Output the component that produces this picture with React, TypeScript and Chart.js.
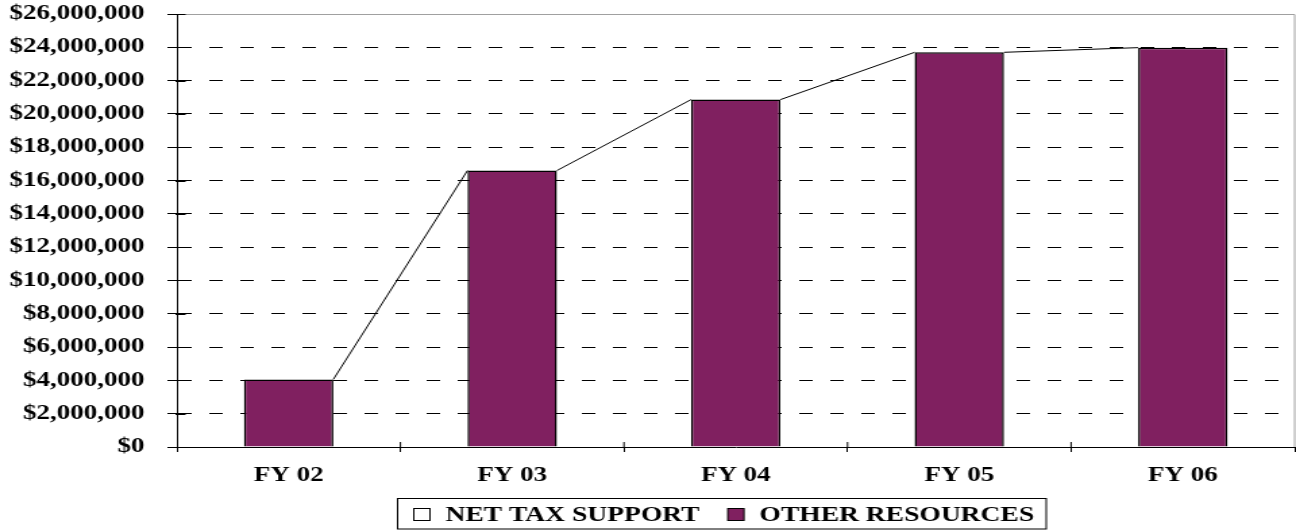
import React, { useEffect, useRef } from "react";
import { Chart, registerables } from "chart.js";

Chart.register(...registerables);

const categories = ["FY 02", "FY 03", "FY 04", "FY 05", "FY 06"];
const netTaxSupport = [0, 0, 0, 0, 0];
const otherResources = [4060000, 16600000, 20860000, 23700000, 23980000];
const seriesNames = ["NET TAX SUPPORT", "OTHER RESOURCES"];
const yMin = 0;
const yMax = 26000000;
const yStep = 2000000;

const PURPLE = "#802060";
const FONT_FAMILY = "'Liberation Serif', 'Times New Roman', serif";

// logical canvas is stretched horizontally (960 -> 1296)
const LOGICAL_W = 960;
const H = 531;

const seriesLinesPlugin = {
  id: "seriesLines",
  afterDatasetsDraw(chart: any) {
    const meta = chart.getDatasetMeta(1);
    const bars = meta.data;
    const ctx = chart.ctx;
    ctx.save();
    ctx.strokeStyle = "#000";
    ctx.lineWidth = 1;
    for (let i = 0; i < bars.length - 1; i++) {
      const a = bars[i].getProps(["x", "y", "width"], true);
      const b = bars[i + 1].getProps(["x", "y", "width"], true);
      ctx.beginPath();
      ctx.moveTo(a.x + a.width / 2, a.y);
      ctx.lineTo(b.x - b.width / 2, b.y);
      ctx.stroke();
    }
    ctx.restore();
  },
};

const frameTicksPlugin = {
  id: "frameTicks",
  afterDraw(chart: any) {
    const { ctx, chartArea, scales } = chart;
    ctx.save();
    // top and right border of plot area
    ctx.strokeStyle = "#a0a0a0";
    ctx.lineWidth = 1;
    const top = Math.round(chartArea.top) + 0.5;
    ctx.beginPath();
    ctx.moveTo(chartArea.left, top);
    ctx.lineTo(chartArea.right, top);
    ctx.lineTo(chartArea.right, chartArea.bottom);
    ctx.stroke();
    // inner halves of the cross tick marks
    ctx.strokeStyle = "#000";
    const ys = scales.y;
    ys.ticks.forEach((t: any) => {
      const y = Math.round(ys.getPixelForValue(t.value)) + 0.5;
      ctx.beginPath();
      ctx.moveTo(chartArea.left - 1, y);
      ctx.lineTo(chartArea.left + 6.5, y);
      ctx.stroke();
    });
    const xs = scales.x;
    const n = categories.length;
    for (let i = 1; i < n; i++) {
      const x = (xs.getPixelForValue(i - 1) + xs.getPixelForValue(i)) / 2;
      ctx.beginPath();
      ctx.moveTo(x, chartArea.bottom);
      ctx.lineTo(x, chartArea.bottom - 5);
      ctx.stroke();
    }
    ctx.restore();
  },
};

const boxLegendPlugin = {
  id: "boxLegend",
  afterDraw(chart: any) {
    const ctx = chart.ctx;
    ctx.save();
    ctx.font = `bold 20.4px ${FONT_FAMILY}`;
    ctx.textBaseline = "middle";
    ctx.textAlign = "left";
    const left = 294.5;
    const top = 498.5;
    const bottom = 529;
    const cy = 514.5;
    const colors = ["#ffffff", PURPLE];
    let x = left + 12;
    chart.data.datasets.forEach((ds: any, i: number) => {
      ctx.fillStyle = colors[i];
      ctx.fillRect(x, cy - 6, 12, 12);
      ctx.strokeStyle = "#000";
      ctx.lineWidth = 1;
      ctx.strokeRect(x, cy - 6, 12, 12);
      x += 12 + 11.5;
      ctx.fillStyle = "#000";
      ctx.fillText(ds.label, x, cy + 1);
      x += ctx.measureText(ds.label).width;
      if (i < chart.data.datasets.length - 1) x += 21;
    });
    const right = Math.max(x + 9, 772.5);
    ctx.strokeStyle = "#000";
    ctx.lineWidth = 1;
    ctx.strokeRect(left, top, right - left, bottom - top);
    ctx.restore();
  },
};

export default function App() {
  const ref = useRef<HTMLCanvasElement | null>(null);

  useEffect(() => {
    if (!ref.current) return;
    Chart.defaults.font.family = FONT_FAMILY;
    Chart.defaults.font.size = 20;
    Chart.defaults.font.weight = "bold";
    Chart.defaults.color = "#000";

    const chart = new Chart(ref.current, {
      type: "bar",
      data: {
        labels: categories,
        datasets: [
          {
            label: seriesNames[0],
            data: netTaxSupport,
            backgroundColor: "#ffffff",
            borderColor: "#000",
            borderWidth: 0,
          },
          {
            label: seriesNames[1],
            data: otherResources,
            backgroundColor: PURPLE,
            borderColor: "#000",
            borderWidth: 1.5,
          },
        ],
      },
      options: {
        responsive: false,
        animation: false,
        devicePixelRatio: 1,
        layout: { padding: { top: 14, right: 1, left: 0, bottom: 0 } },
        datasets: {
          bar: { barPercentage: 0.4, categoryPercentage: 1.0 },
        },
        plugins: {
          legend: { display: false },
          tooltip: { enabled: false },
          title: { display: false },
        },
        scales: {
          x: {
            stacked: true,
            offset: true,
            grid: {
              offset: true,
              drawOnChartArea: false,
              drawTicks: true,
              tickLength: 5,
              color: "#000",
            },
            border: { display: true, color: "#000", width: 1 },
            ticks: { padding: 12, font: { size: 20, weight: "bold" }, color: "#000" },
            afterFit: (s: any) => {
              s.height = 84;
            },
          },
          y: {
            stacked: true,
            min: yMin,
            max: yMax,
            grid: {
              color: (c: any) =>
                c.tick && (c.tick.value === yMax || c.tick.value === yMin)
                  ? "rgba(0,0,0,0)"
                  : "#000",
              tickColor: "#000",
              tickLength: 7,
              tickBorderDash: [],
              lineWidth: 1,
            },
            border: { display: true, color: "#000", width: 1, dash: [10, 13] },
            ticks: {
              stepSize: yStep,
              padding: 17,
              font: { size: 20, weight: "bold" },
              color: "#000",
              callback: (v: any) => "$" + Number(v).toLocaleString("en-US"),
            },
            afterFit: (s: any) => {
              s.width = 131;
              s.paddingTop = 0;
              s.paddingBottom = 0;
            },
          },
        },
      },
      plugins: [seriesLinesPlugin, frameTicksPlugin, boxLegendPlugin],
    } as any);

    return () => chart.destroy();
  }, []);

  return (
    <div style={{ position: "absolute", left: 0, top: 0, width: 1296, height: H }}>
      <canvas
        ref={ref}
        width={LOGICAL_W}
        height={H}
        style={{ width: "1296px", height: `${H}px`, display: "block" }}
      />
    </div>
  );
}
